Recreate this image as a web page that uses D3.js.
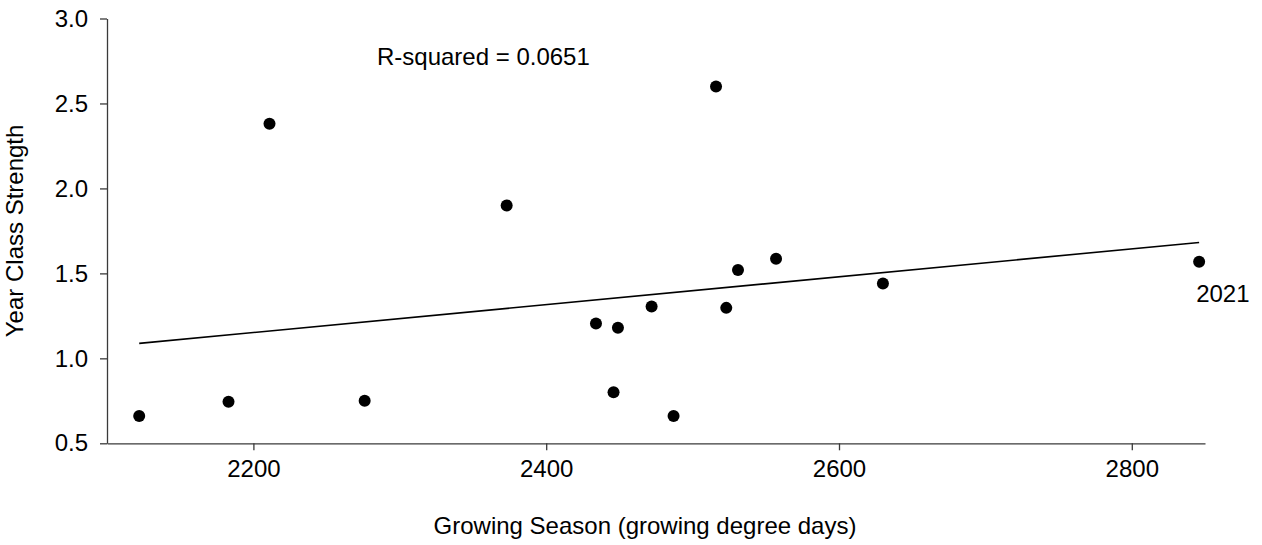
<!DOCTYPE html>
<html>
<head>
<meta charset="utf-8">
<script src="https://cdn.jsdelivr.net/npm/d3@7"></script>
<style>
    body { margin: 0; background: #fff; }
    svg text { font-family: Arial, "Liberation Sans", sans-serif; fill: #000; }
</style>
</head>
<body>
<svg id="chart" width="1262" height="545"></svg>
<script>
// growing degree days and year class strength
var gdd = [2122, 2183, 2211, 2276, 2373, 2434, 2446, 2449, 2472, 2487, 2516, 2523, 2531, 2557, 2630, 2846];
var ycs = [0.66, 0.745, 2.38, 0.75, 1.90, 1.205, 0.80, 1.18, 1.305, 0.66, 2.60, 1.297, 1.52, 1.586, 1.44, 1.568];
var xTicks = [2200, 2400, 2600, 2800];
var yTicks = [0.5, 1.0, 1.5, 2.0, 2.5, 3.0];
var labelYear = "2021";
var rSquaredText = "R-squared = 0.0651";

var svg = d3.select("#chart");
const margin = { top: 18.5, right: 57, bottom: 101.7, left: 107 },
    width = 1262 - margin.left - margin.right,
    height = 545 - margin.top - margin.bottom;

var g = svg.append("g").attr("transform", "translate(" + margin.left + "," + margin.top + ")");

var x = d3.scaleLinear().domain([2100, 2850]).range([0, width]);
var y = d3.scaleLinear().domain([0.5, 3.0]).range([height, 0]);

var xAxis = g.append("g")
    .attr("transform", "translate(0," + height + ")")
    .call(d3.axisBottom(x).tickValues(xTicks).tickFormat(d3.format("d")).tickSizeInner(7).tickSizeOuter(0).tickPadding(10));
var yAxis = g.append("g")
    .call(d3.axisLeft(y).tickValues(yTicks).tickFormat(d3.format(".1f")).tickSizeInner(7).tickSizeOuter(0).tickPadding(12));

[xAxis, yAxis].forEach(function (a) {
    a.selectAll("path, line").attr("stroke", "#3a3a3a").attr("stroke-width", 1.3);
    a.selectAll("text").attr("font-size", "24px").attr("fill", "#000")
        .style("font-family", "Arial, 'Liberation Sans', sans-serif");
});

// least squares fit
var n = gdd.length;
var mx = d3.mean(gdd), my = d3.mean(ycs);
var sxy = d3.sum(gdd, function (d, i) { return (d - mx) * (ycs[i] - my); });
var sxx = d3.sum(gdd, function (d) { return (d - mx) * (d - mx); });
var slope = sxy / sxx, intercept = my - slope * mx;
var ext = d3.extent(gdd);

g.append("line")
    .attr("x1", x(ext[0])).attr("y1", y(intercept + slope * ext[0]))
    .attr("x2", x(ext[1])).attr("y2", y(intercept + slope * ext[1]))
    .attr("stroke", "#000").attr("stroke-width", 1.6);

g.selectAll("circle")
    .data(gdd)
    .enter().append("circle")
    .attr("cx", function (d) { return x(d); })
    .attr("cy", function (d, i) { return y(ycs[i]); })
    .attr("r", 6)
    .attr("fill", "#000");

var last = gdd.length - 1;
g.append("text")
    .attr("x", x(gdd[last]) - 3)
    .attr("y", y(ycs[last]) + 40)
    .attr("font-size", "24px")
    .text(labelYear);

svg.append("text")
    .attr("x", 377)
    .attr("y", 65)
    .attr("font-size", "24px")
    .text(rSquaredText);

svg.append("text")
    .attr("x", 645)
    .attr("y", 534)
    .attr("text-anchor", "middle")
    .attr("font-size", "24px")
    .text("Growing Season (growing degree days)");

svg.append("text")
    .attr("transform", "translate(23," + (margin.top + height / 2) + ") rotate(-90)")
    .attr("text-anchor", "middle")
    .attr("font-size", "24px")
    .text("Year Class Strength");
</script>
</body>
</html>
